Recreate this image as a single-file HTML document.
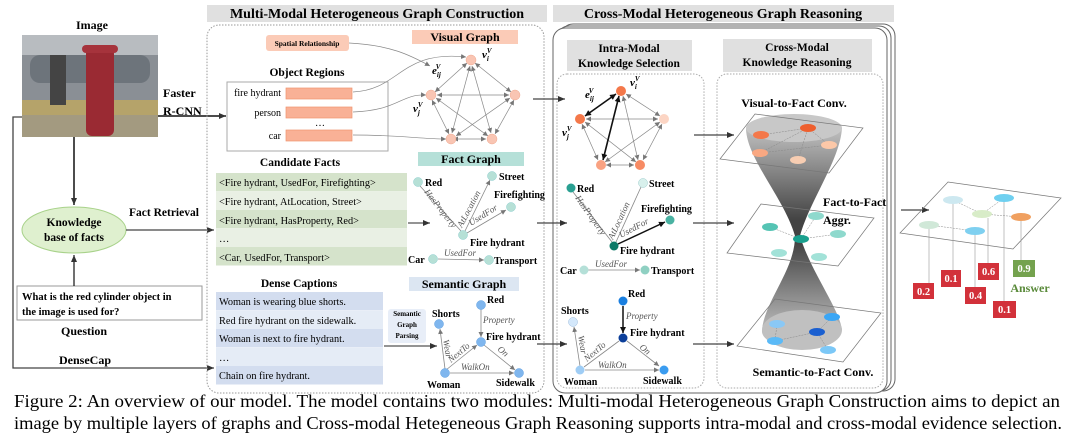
<!DOCTYPE html>
<html><head><meta charset="utf-8"><style>
html,body{margin:0;padding:0;background:#fff;}
svg{display:block;font-family:"Liberation Serif",serif;}
.b{font-weight:bold;}
</style></head><body>
<svg width="1080" height="436" viewBox="0 0 1080 436" xmlns="http://www.w3.org/2000/svg">
<defs>
<marker id="ah" markerWidth="8" markerHeight="8" refX="7" refY="4" orient="auto" markerUnits="userSpaceOnUse"><path d="M0,1 L7,4 L0,7 z" fill="#333"/></marker>
<marker id="as" markerWidth="6" markerHeight="6" refX="5" refY="3" orient="auto-start-reverse" markerUnits="userSpaceOnUse"><path d="M0,0.5 L5,3 L0,5.5 z" fill="#777"/></marker>
<marker id="ak" markerWidth="7" markerHeight="7" refX="6" refY="3.5" orient="auto-start-reverse" markerUnits="userSpaceOnUse"><path d="M0,0.5 L6,3.5 L0,6.5 z" fill="#111"/></marker>
<linearGradient id="hg" x1="0" y1="0" x2="0" y2="1">
<stop offset="0" stop-color="#c8c8c8"/><stop offset="0.45" stop-color="#222"/><stop offset="0.55" stop-color="#222"/><stop offset="1" stop-color="#c8c8c8"/></linearGradient>
</defs>

<!-- Title bars -->
<rect x="207" y="5" width="340" height="17" fill="#e0e0e0"/>
<text x="377" y="18" text-anchor="middle" class="b" font-size="14">Multi-Modal Heterogeneous Graph Construction</text>
<rect x="553" y="5" width="341" height="17" fill="#e0e0e0"/>
<text x="723" y="18" text-anchor="middle" class="b" font-size="14">Cross-Modal Heterogeneous Graph Reasoning</text>

<!-- Left: image -->
<text x="92" y="29" text-anchor="middle" class="b" font-size="12">Image</text>
<rect x="22" y="35" width="136" height="102" fill="#8a8f95"/>
<rect x="22" y="35" width="136" height="20" fill="#b8bcc0"/>
<rect x="30" y="55" width="120" height="28" rx="10" fill="#6d747b"/>
<rect x="22" y="100" width="136" height="37" fill="#b5a36a"/>
<rect x="22" y="115" width="136" height="22" fill="#a39a80"/>
<rect x="50" y="55" width="16" height="50" fill="#444"/>
<rect x="86" y="48" width="28" height="88" rx="6" fill="#9a2a33"/>
<rect x="82" y="45" width="36" height="8" rx="4" fill="#a6333c"/>
<!-- arrows from image -->
<line x1="74" y1="137" x2="74" y2="205" stroke="#111" stroke-width="1.5" marker-end="url(#ah)"/>
<ellipse cx="74" cy="230" rx="52" ry="23" fill="#dff0cf" stroke="#a8d28a"/>
<text x="74" y="226" text-anchor="middle" class="b" font-size="11.5">Knowledge</text>
<text x="74" y="241" text-anchor="middle" class="b" font-size="11.5">base of facts</text>
<rect x="17" y="286" width="185" height="34" fill="#fff" stroke="#999"/>
<text x="22" y="300" class="b" font-size="10.5">What is the red cylinder object in</text>
<text x="22" y="315" class="b" font-size="10.5">the image is used for?</text>
<line x1="74" y1="286" x2="74" y2="255" stroke="#111" stroke-width="1.2" marker-end="url(#ah)"/>
<text x="84" y="335" text-anchor="middle" class="b" font-size="12">Question</text>
<text x="85" y="364" text-anchor="middle" class="b" font-size="12">DenseCap</text>
<polyline points="22,117 13,117 13,368 214,368" fill="none" stroke="#444" stroke-width="1.3" marker-end="url(#ah)"/>
<text x="163" y="97" class="b" font-size="12">Faster</text>
<text x="163" y="115" class="b" font-size="12">R-CNN</text>
<line x1="158" y1="116" x2="226" y2="116" stroke="#111" stroke-width="1.5" marker-end="url(#ah)"/>
<text x="129" y="216" class="b" font-size="11.5">Fact Retrieval</text>
<line x1="126" y1="230" x2="214" y2="230" stroke="#444" stroke-width="1.3" marker-end="url(#ah)"/>

<!-- Middle box -->
<rect x="207" y="25" width="337" height="368" rx="12" fill="none" stroke="#999" stroke-dasharray="1.5,1.5"/>
<rect x="266" y="35" width="83" height="16" rx="3" fill="#fbcbb7"/>
<text x="307" y="46" text-anchor="middle" class="b" font-size="7.5">Spatial Relationship</text>
<path d="M349,43 C390,45 410,55 430,66" fill="none" stroke="#888" stroke-width="0.7" marker-end="url(#as)"/>
<rect x="412" y="30" width="106" height="14" fill="#fbcbb7"/>
<text x="465" y="41" text-anchor="middle" class="b" font-size="12">Visual Graph</text>
<text x="307" y="76" text-anchor="middle" class="b" font-size="11.5">Object Regions</text>
<rect x="227" y="82" width="161" height="69" fill="#fff" stroke="#aaa"/>
<g font-size="10" text-anchor="end">
<text x="281" y="96">fire hydrant</text><text x="281" y="116">person</text><text x="281" y="139">car</text></g>
<text x="320" y="126" text-anchor="middle" font-size="10">…</text>
<g fill="#f9b196" stroke="#ef9470" stroke-width="0.7">
<rect x="286" y="88" width="66" height="11"/><rect x="286" y="107" width="66" height="11"/><rect x="286" y="130" width="66" height="11"/></g>
<g fill="none" stroke="#888" stroke-width="0.7">
<path d="M353,92 C400,90 400,50 466,57" marker-end="url(#as)"/>
<path d="M353,112 C400,110 400,94 426,95" marker-end="url(#as)"/>
<path d="M353,135 C400,135 420,139 446,139" marker-end="url(#as)"/></g>
<!-- visual graph -->
<g stroke="#888" stroke-width="0.7" marker-end="url(#as)" marker-start="url(#as)">
<line x1="467" y1="63" x2="435" y2="92"/><line x1="475" y1="63" x2="511" y2="92"/>
<line x1="437" y1="95" x2="509" y2="95"/><line x1="453" y1="139" x2="486" y2="139"/>
<line x1="432" y1="100" x2="449" y2="134"/><line x1="514" y1="100" x2="495" y2="134"/>
<line x1="470" y1="66" x2="452" y2="133"/><line x1="472" y1="66" x2="491" y2="133"/>
<line x1="436" y1="98" x2="488" y2="136"/><line x1="510" y1="98" x2="456" y2="136"/></g>
<g fill="#f9c5b3" stroke="#f0a88e" stroke-width="0.5">
<circle cx="471" cy="60" r="5"/><circle cx="431" cy="95" r="5"/><circle cx="515" cy="95" r="5"/><circle cx="451" cy="139" r="5"/><circle cx="492" cy="139" r="5"/></g>
<g font-style="italic" font-weight="bold" font-size="11">
<text x="482" y="58">v<tspan font-size="7" dy="3">i</tspan><tspan font-size="7" dy="-8" dx="-2">V</tspan></text>
<text x="432" y="74">e<tspan font-size="7" dy="3">ij</tspan><tspan font-size="7" dy="-8" dx="-5">V</tspan></text>
<text x="413" y="112">v<tspan font-size="7" dy="3">j</tspan><tspan font-size="7" dy="-8" dx="-2">V</tspan></text></g>

<!-- Candidate facts -->
<text x="300" y="166" text-anchor="middle" class="b" font-size="11.5">Candidate Facts</text>
<rect x="216" y="173" width="191" height="18.5" fill="#d5e3cb"/>
<rect x="216" y="192" width="191" height="18" fill="#e9f0e4"/>
<rect x="216" y="210" width="191" height="18.5" fill="#d5e3cb"/>
<rect x="216" y="229" width="191" height="18" fill="#e9f0e4"/>
<rect x="216" y="247" width="191" height="18.5" fill="#d5e3cb"/>
<g font-size="10.3">
<text x="219" y="186">&lt;Fire hydrant, UsedFor, Firefighting&gt;</text>
<text x="219" y="205">&lt;Fire hydrant, AtLocation, Street&gt;</text>
<text x="219" y="224">&lt;Fire hydrant, HasProperty, Red&gt;</text>
<text x="219" y="242">…</text>
<text x="219" y="261">&lt;Car, UsedFor, Transport&gt;</text></g>
<line x1="408" y1="223" x2="430" y2="223" stroke="#555" stroke-width="1.2" marker-end="url(#ah)"/>
<rect x="418" y="152" width="106" height="14" fill="#b5e0d8"/>
<text x="471" y="163" text-anchor="middle" class="b" font-size="12">Fact Graph</text>
<g stroke="#888" stroke-width="0.8">
<line x1="420" y1="186" x2="461" y2="231"/><line x1="465" y1="231" x2="490" y2="180" marker-end="url(#as)"/><line x1="467" y1="233" x2="506" y2="210" marker-end="url(#as)"/>
<line x1="438" y1="259" x2="484" y2="260" marker-end="url(#as)"/></g>
<g fill="#b6e0d6" stroke="#8cc" stroke-width="0.5">
<circle cx="418" cy="182" r="4.5"/><circle cx="492" cy="176" r="4.5"/><circle cx="511" cy="207" r="4.5"/><circle cx="463" cy="235" r="4.5"/><circle cx="433" cy="259" r="4.5"/><circle cx="489" cy="260" r="4.5"/></g>
<g class="b" font-size="10">
<text x="425" y="186">Red</text><text x="499" y="180">Street</text><text x="494" y="198">Firefighting</text><text x="470" y="246">Fire hydrant</text><text x="408" y="263">Car</text><text x="494" y="264">Transport</text></g>
<g font-style="italic" font-size="9" fill="#555">
<text transform="translate(424,192) rotate(52)">HasProperty</text>
<text transform="translate(462,228) rotate(-62)">AtLocation</text>
<text transform="translate(471,226) rotate(-32)">UsedFor</text>
<text x="444" y="256">UsedFor</text></g>

<!-- Dense captions -->
<text x="299" y="287" text-anchor="middle" class="b" font-size="11.5">Dense Captions</text>
<rect x="216" y="292" width="167" height="18.5" fill="#d3ddef"/>
<rect x="216" y="311" width="167" height="18" fill="#e5ecf6"/>
<rect x="216" y="329" width="167" height="18.5" fill="#d3ddef"/>
<rect x="216" y="348" width="167" height="18" fill="#e5ecf6"/>
<rect x="216" y="366" width="167" height="18.5" fill="#d3ddef"/>
<g font-size="10.3">
<text x="219" y="305">Woman is wearing blue shorts.</text>
<text x="219" y="324">Red fire hydrant on the sidewalk.</text>
<text x="219" y="342">Woman is next to fire hydrant.</text>
<text x="219" y="361">…</text>
<text x="219" y="379">Chain on fire hydrant.</text></g>
<rect x="409" y="277" width="110" height="14" fill="#dce6f2"/>
<text x="464" y="288" text-anchor="middle" class="b" font-size="12">Semantic Graph</text>
<rect x="388" y="309" width="38" height="34" rx="3" fill="#e8eef8"/>
<g class="b" font-size="7" text-anchor="middle"><text x="407" y="316">Semantic</text><text x="407" y="327">Graph</text><text x="407" y="338">Parsing</text></g>
<line x1="384" y1="346" x2="437" y2="346" stroke="#555" stroke-width="1.2" marker-end="url(#ah)"/>
<g stroke="#888" stroke-width="0.8">
<line x1="481" y1="309" x2="481" y2="337" marker-end="url(#as)"/><line x1="445" y1="369" x2="440" y2="329" marker-end="url(#as)"/>
<line x1="446" y1="370" x2="477" y2="345" marker-end="url(#as)"/><line x1="484" y1="345" x2="515" y2="370" marker-end="url(#as)"/>
<line x1="450" y1="373" x2="514" y2="373" marker-end="url(#as)"/></g>
<g fill="#7fb6ee" stroke="#5c9ee0" stroke-width="0.5">
<circle cx="481" cy="305" r="4.5"/><circle cx="439" cy="324" r="4.5"/><circle cx="481" cy="342" r="4.5"/><circle cx="445" cy="373" r="4.5"/><circle cx="519" cy="373" r="4.5"/></g>
<g class="b" font-size="10">
<text x="487" y="303">Red</text><text x="432" y="317">Shorts</text><text x="486" y="340">Fire hydrant</text><text x="427" y="388">Woman</text><text x="496" y="386">Sidewalk</text></g>
<g font-style="italic" font-size="9" fill="#555">
<text x="483" y="323">Property</text>
<text transform="translate(443,340) rotate(80)">Wear</text>
<text transform="translate(451,363) rotate(-40)">NextTo</text>
<text transform="translate(497,350) rotate(40)">On</text>
<text x="461" y="370">WalkOn</text></g>

<!-- Reasoning outer boxes -->
<rect x="561" y="24" width="334" height="367" rx="12" fill="#fff" stroke="#666"/>
<rect x="557" y="26" width="334" height="365" rx="12" fill="#fff" stroke="#666"/>
<rect x="553" y="28" width="334" height="365" rx="12" fill="#fff" stroke="#666"/>
<rect x="567" y="40" width="125" height="31" fill="#e0e0e0"/>
<g class="b" font-size="11.5" text-anchor="middle"><text x="629" y="52">Intra-Modal</text><text x="629" y="67">Knowledge Selection</text></g>
<rect x="557" y="74" width="147" height="314" rx="10" fill="none" stroke="#aaa" stroke-dasharray="1.5,1.5"/>
<rect x="723" y="39" width="149" height="33" fill="#e0e0e0"/>
<g class="b" font-size="11.5" text-anchor="middle"><text x="797" y="51">Cross-Modal</text><text x="797" y="66">Knowledge Reasoning</text></g>
<rect x="717" y="74" width="166" height="314" rx="10" fill="none" stroke="#aaa" stroke-dasharray="1.5,1.5"/>

<!-- arrows mid -> intra -->
<g stroke="#444" stroke-width="1.3" marker-end="url(#ah)">
<line x1="533" y1="99" x2="565" y2="99"/><line x1="537" y1="223" x2="567" y2="223"/><line x1="537" y1="344" x2="567" y2="344"/>
<line x1="694" y1="135" x2="734" y2="135"/><line x1="693" y1="223" x2="734" y2="223"/><line x1="693" y1="344" x2="734" y2="344"/>
<line x1="901" y1="210" x2="929" y2="210"/></g>

<!-- intra visual -->
<g stroke="#888" stroke-width="0.7" marker-end="url(#as)" marker-start="url(#as)">
<line x1="626" y1="94" x2="660" y2="116"/><line x1="586" y1="119" x2="658" y2="119"/><line x1="606" y1="165" x2="634" y2="165"/>
<line x1="582" y1="124" x2="598" y2="160"/><line x1="662" y1="124" x2="643" y2="160"/><line x1="623" y1="96" x2="638" y2="160"/>
<line x1="585" y1="122" x2="636" y2="162"/><line x1="660" y1="122" x2="605" y2="162"/></g>
<g stroke="#111" stroke-width="1.6" marker-end="url(#ak)" marker-start="url(#ak)">
<line x1="616" y1="94" x2="585" y2="116"/><line x1="619" y1="96" x2="603" y2="160"/></g>
<circle cx="621" cy="91" r="5" fill="#f4784a"/><circle cx="580" cy="119" r="5" fill="#f4784a"/><circle cx="664" cy="119" r="5" fill="#fcd5c4"/><circle cx="601" cy="165" r="5" fill="#f9a282"/><circle cx="640" cy="165" r="5" fill="#f78b64"/>
<g font-style="italic" font-weight="bold" font-size="11">
<text x="630" y="86">v<tspan font-size="7" dy="3">i</tspan><tspan font-size="7" dy="-8" dx="-2">V</tspan></text>
<text x="585" y="98">e<tspan font-size="7" dy="3">ij</tspan><tspan font-size="7" dy="-8" dx="-5">V</tspan></text>
<text x="562" y="136">v<tspan font-size="7" dy="3">j</tspan><tspan font-size="7" dy="-8" dx="-2">V</tspan></text></g>
<!-- intra fact -->
<g stroke="#888" stroke-width="0.8">
<line x1="573" y1="192" x2="612" y2="242"/><line x1="616" y1="242" x2="641" y2="187"/><line x1="588" y1="270" x2="640" y2="270" marker-end="url(#as)"/></g>
<line x1="618" y1="244" x2="665" y2="222" stroke="#111" stroke-width="1.5" marker-end="url(#ak)"/>
<circle cx="571" cy="188" r="4.5" fill="#2aa092"/><circle cx="643" cy="183" r="4.5" fill="#d8f0ec" stroke="#9cc" stroke-width="0.5"/><circle cx="670" cy="220" r="4.5" fill="#49b2a2"/><circle cx="614" cy="246" r="4.5" fill="#0e7a68"/><circle cx="584" cy="270" r="4.5" fill="#b5e0d8"/><circle cx="645" cy="270" r="4.5" fill="#8fd0c2"/>
<g class="b" font-size="10">
<text x="577" y="192">Red</text><text x="649" y="187">Street</text><text x="641" y="212">Firefighting</text><text x="620" y="254">Fire hydrant</text><text x="560" y="274">Car</text><text x="651" y="274">Transport</text></g>
<g font-style="italic" font-size="9" fill="#555">
<text transform="translate(575,198) rotate(55)">HasProperty</text>
<text transform="translate(613,240) rotate(-65)">AtLocation</text>
<text transform="translate(621,238) rotate(-28)">UsedFor</text>
<text x="595" y="267">UsedFor</text></g>
<!-- intra semantic -->
<g stroke="#888" stroke-width="0.8">
<line x1="580" y1="366" x2="574" y2="327" marker-end="url(#as)"/><line x1="584" y1="367" x2="619" y2="341"/><line x1="627" y1="341" x2="659" y2="366" marker-end="url(#as)"/><line x1="585" y1="370" x2="659" y2="370" marker-end="url(#as)"/></g>
<line x1="623" y1="306" x2="623" y2="333" stroke="#111" stroke-width="1.5" marker-end="url(#ak)"/>
<circle cx="623" cy="301" r="4.5" fill="#1a7fe0"/><circle cx="573" cy="322" r="4.5" fill="#d4e8fb" stroke="#9bd" stroke-width="0.5"/><circle cx="623" cy="338" r="4.5" fill="#0c3f9a"/><circle cx="580" cy="370" r="4.5" fill="#9fcdf5"/><circle cx="664" cy="370" r="4.5" fill="#3a9cf0"/>
<g class="b" font-size="10">
<text x="628" y="297">Red</text><text x="561" y="314">Shorts</text><text x="630" y="336">Fire hydrant</text><text x="564" y="385">Woman</text><text x="643" y="384">Sidewalk</text></g>
<g font-style="italic" font-size="9" fill="#555">
<text x="626" y="319">Property</text>
<text transform="translate(578,336) rotate(80)">Wear</text>
<text transform="translate(587,362) rotate(-40)">NextTo</text>
<text transform="translate(639,348) rotate(40)">On</text>
<text x="598" y="368">WalkOn</text></g>

<!-- Cross-modal hourglass -->
<text x="794" y="107" text-anchor="middle" class="b" font-size="12">Visual-to-Fact Conv.</text>
<path d="M746,130 C746,115 830,110 842,128 C840,160 810,200 800,236 C810,270 840,310 842,330 C830,352 760,352 762,330 C765,300 795,270 795,236 C785,200 748,160 746,130 z" fill="url(#hg)" opacity="0.85"/>
<ellipse cx="794" cy="128" rx="48" ry="14" fill="#c8c8c8"/>
<ellipse cx="802" cy="330" rx="40" ry="20" fill="#c0c0c0"/>
<g fill="none" stroke="#777" stroke-width="0.7">
<polygon points="720,159 755,114 863,128 829,173"/>
<polygon points="727,253 761,204 874,218 838,266"/>
<polygon points="737,346 775,299 881,313 843,362"/>
<polygon points="900,233 948,182 1061,198 1013,249"/></g>
<g stroke="#888" stroke-width="0.5" stroke-dasharray="2,1">
<line x1="761" y1="135" x2="808" y2="128"/><line x1="808" y1="128" x2="829" y2="145"/><line x1="760" y1="153" x2="808" y2="128"/><line x1="760" y1="153" x2="829" y2="145"/><line x1="798" y1="160" x2="808" y2="128"/>
<line x1="801" y1="239" x2="816" y2="216"/><line x1="801" y1="239" x2="838" y2="234"/><line x1="801" y1="239" x2="770" y2="227"/>
<line x1="817" y1="332" x2="832" y2="317"/><line x1="817" y1="332" x2="828" y2="350"/><line x1="777" y1="324" x2="775" y2="341"/><line x1="775" y1="341" x2="817" y2="332"/>
<line x1="953" y1="200" x2="982" y2="214"/><line x1="982" y1="214" x2="1004" y2="198"/><line x1="929" y1="225" x2="975" y2="231"/><line x1="982" y1="214" x2="1021" y2="217"/></g>
<ellipse cx="761" cy="135" rx="8" ry="4" fill="#f4784a"/><ellipse cx="808" cy="128" rx="8" ry="4" fill="#ee5f2e"/><ellipse cx="829" cy="145" rx="8" ry="4" fill="#fcc8a8"/><ellipse cx="760" cy="153" rx="8" ry="4" fill="#f9a882"/><ellipse cx="798" cy="160" rx="8" ry="4" fill="#f7cdb2"/>
<ellipse cx="770" cy="227" rx="8" ry="4" fill="#55c4b4"/><ellipse cx="816" cy="216" rx="8" ry="4" fill="#8ed9cd"/><ellipse cx="801" cy="239" rx="8" ry="4" fill="#1aa08e"/><ellipse cx="838" cy="234" rx="8" ry="4" fill="#8ed9cd"/><ellipse cx="779" cy="253" rx="8" ry="4" fill="#a2e2d8"/><ellipse cx="819" cy="257" rx="8" ry="4" fill="#a2e2d8"/>
<ellipse cx="777" cy="324" rx="8" ry="4" fill="#8ac8f5"/><ellipse cx="832" cy="317" rx="8" ry="4" fill="#3aa6f5"/><ellipse cx="817" cy="332" rx="8" ry="4" fill="#1a5fd0"/><ellipse cx="775" cy="341" rx="8" ry="4" fill="#5bbaf7"/><ellipse cx="828" cy="350" rx="8" ry="4" fill="#7cc8f7"/>
<text x="823" y="206" class="b" font-size="12">Fact-to-Fact</text>
<text x="823" y="224" class="b" font-size="12">Aggr.</text>
<text x="813" y="376" text-anchor="middle" class="b" font-size="12">Semantic-to-Fact Conv.</text>

<!-- answer plane nodes -->
<ellipse cx="953" cy="200" rx="10" ry="4" fill="#cde8f0"/><ellipse cx="1004" cy="198" rx="10" ry="4" fill="#6fd0f0"/><ellipse cx="982" cy="214" rx="10" ry="4" fill="#d8ecc8"/><ellipse cx="1021" cy="217" rx="10" ry="4" fill="#f0a060"/><ellipse cx="929" cy="225" rx="10" ry="4" fill="#d0e8d8"/><ellipse cx="975" cy="231" rx="10" ry="4" fill="#7fd0f0"/>
<g stroke="#999" stroke-width="0.6">
<line x1="929" y1="229" x2="929" y2="283"/><line x1="953" y1="204" x2="953" y2="270"/><line x1="975" y1="235" x2="975" y2="287"/><line x1="988" y1="218" x2="988" y2="263"/><line x1="1021" y1="221" x2="1021" y2="260"/><line x1="1004" y1="202" x2="1004" y2="301"/></g>
<g fill="#d2313a"><rect x="913" y="283" width="21" height="16"/><rect x="941" y="270" width="20" height="17"/><rect x="965" y="287" width="21" height="17"/><rect x="978" y="263" width="21" height="17"/><rect x="993" y="301" width="23" height="17"/></g>
<rect x="1013" y="260" width="22" height="17" fill="#74a24e"/>
<g fill="#fff" class="b" font-size="10.5" text-anchor="middle">
<text x="923.5" y="295">0.2</text><text x="951" y="282">0.1</text><text x="975.5" y="299">0.4</text><text x="988.5" y="275">0.6</text><text x="1004.5" y="313">0.1</text><text x="1024" y="272">0.9</text></g>
<text x="1030" y="292" text-anchor="middle" class="b" font-size="12" fill="#5a8a3a">Answer</text>

<!-- caption -->
<text x="14" y="407" font-size="18" textLength="1046" lengthAdjust="spacingAndGlyphs">Figure 2: An overview of our model. The model contains two modules: Multi-modal Heterogeneous Graph Construction aims to depict an</text>
<text x="14" y="429" font-size="18" textLength="1048" lengthAdjust="spacingAndGlyphs">image by multiple layers of graphs and Cross-modal Hetegeneous Graph Reasoning supports intra-modal and cross-modal evidence selection.</text>
</svg>
</body></html>
